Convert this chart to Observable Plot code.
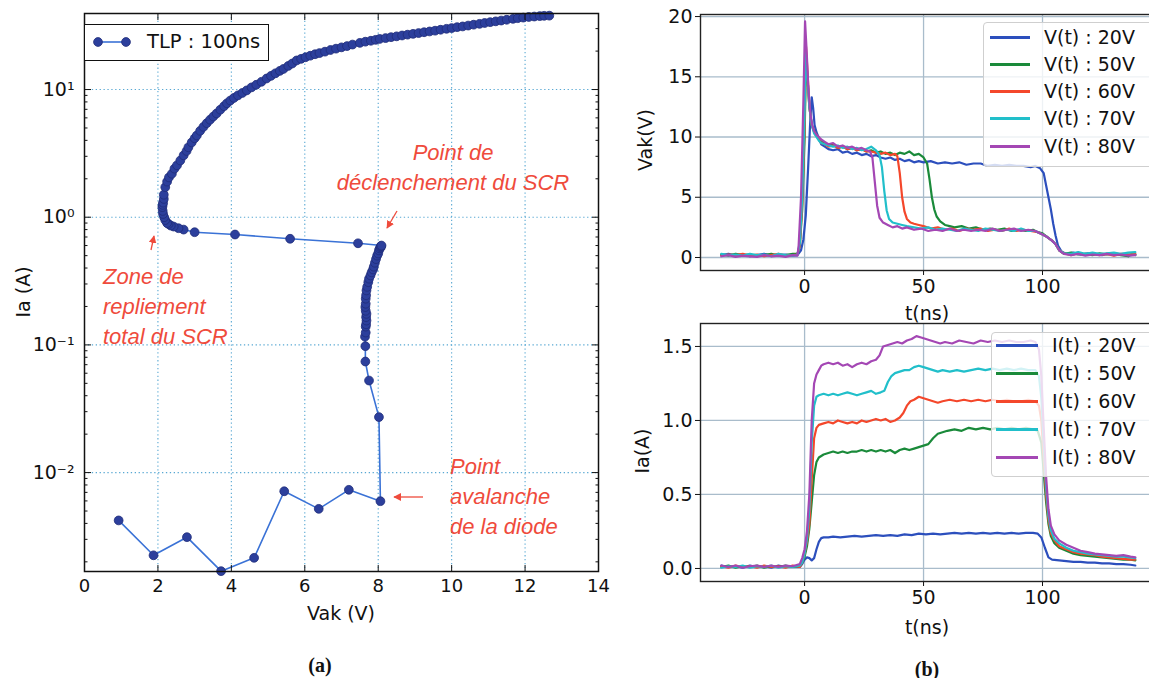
<!DOCTYPE html>
<html><head><meta charset="utf-8">
<script src="https://cdn.jsdelivr.net/npm/d3@7"></script>
<script src="https://cdn.jsdelivr.net/npm/@observablehq/plot@0.6"></script>
<style>
body{margin:0;background:#fff;overflow:hidden}
#root{position:relative;width:1149px;height:678px;overflow:hidden;background:#fff;font-family:"DejaVu Sans",sans-serif;color:#111}
#root svg{max-width:none !important;height:auto}
.pos{position:absolute}
.lbl{position:absolute;font-family:"DejaVu Sans";font-size:19px;color:#111;white-space:nowrap;transform:translate(-50%,-50%)}
.rot{transform:translate(-50%,-50%) rotate(-90deg)}
.ann{position:absolute;color:#ef4b3c;font-family:"Liberation Sans";font-style:italic;font-size:22px;line-height:30px;white-space:nowrap}
.cap{position:absolute;font-family:"Liberation Serif";font-weight:bold;font-size:20px;transform:translate(-50%,-50%)}
.leg{position:absolute;background:rgba(255,255,255,0.8);border:1px solid #cfcfcf;border-radius:4px}
.row{position:absolute;height:28px;display:flex;align-items:center;font-family:"DejaVu Sans";font-size:19px;color:#111;white-space:nowrap}
.sw{height:3px;display:inline-block}
</style></head>
<body><div id="root">
<div id="pa" class="pos" style="left:0;top:0;width:620px;height:640px"></div>
<div id="pb1" class="pos" style="left:620px;top:0;width:560px;height:330px"></div>
<div id="pb2" class="pos" style="left:620px;top:300px;width:560px;height:360px"></div>
</div>
<script>
// ---------------- data: panel (a) TLP I-V ----------------
const avalancheBranch = [[0.93,0.00422],[1.88,0.00225],[2.79,0.00312],[3.72,0.00169],[4.62,0.00215],[5.44,0.00714],[6.38,0.0052],[7.2,0.00733],[8.06,0.00597],[8.02,0.0272],[7.75,0.0526],[7.65,0.0741],[7.65,0.0977],[7.64,0.116],[7.66,0.125],[7.66,0.139],[7.67,0.145],[7.68,0.155],[7.67,0.165],[7.68,0.175],[7.66,0.185],[7.65,0.198],[7.66,0.21],[7.66,0.23],[7.67,0.245],[7.68,0.267],[7.7,0.285],[7.73,0.31],[7.75,0.33],[7.79,0.35],[7.82,0.37],[7.86,0.39],[7.88,0.41],[7.91,0.44],[7.94,0.47],[7.97,0.5],[8.0,0.52],[8.02,0.55],[8.04,0.57],[8.07,0.58],[8.07,0.593],[8.09,0.6]];
const snapbackBranch = [[7.45,0.625],[5.6,0.678],[4.1,0.732],[3.0,0.763],[2.7,0.8],[2.56,0.82],[2.43,0.845],[2.35,0.86],[2.29,0.885],[2.25,0.9],[2.2,0.95],[2.17,1.0],[2.14,1.06],[2.13,1.12],[2.12,1.2],[2.13,1.25],[2.14,1.3],[2.16,1.39]];
const onStateBranch = [[2.16,1.5],[2.2,1.72],[2.25,1.9],[2.3,2.05],[2.38,2.19],[2.45,2.4],[2.52,2.55],[2.61,2.78],[2.7,3.05],[2.78,3.3],[2.83,3.53],[2.92,3.85],[3.0,4.15],[3.06,4.37],[3.15,4.75],[3.24,5.1],[3.33,5.45],[3.42,5.8],[3.51,6.15],[3.6,6.5],[3.7,6.95],[3.8,7.4],[3.88,7.8],[3.97,8.2],[4.07,8.6],[4.18,9.0],[4.3,9.4],[4.42,9.85],[4.55,10.4],[4.68,10.9],[4.82,11.5],[4.96,12.2],[5.08,12.8],[5.2,13.4],[5.32,14.0],[5.42,14.5],[5.55,15.3],[5.66,16.0],[5.78,16.9],[5.9,17.4],[6.02,17.9],[6.15,18.4],[6.28,18.9],[6.4,19.3],[6.55,19.8],[6.7,20.4],[6.85,20.9],[7.0,21.4],[7.15,21.9],[7.3,22.5],[7.5,23.2],[7.65,23.7],[7.8,24.1],[7.93,24.5],[8.04,24.9],[8.2,25.3],[8.35,25.7],[8.5,26.1],[8.65,26.5],[8.8,26.9],[8.95,27.3],[9.1,27.7],[9.25,28.1],[9.4,28.5],[9.55,28.9],[9.7,29.4],[9.86,29.9],[10.0,30.3],[10.15,30.8],[10.3,31.2],[10.45,31.7],[10.6,32.2],[10.76,32.7],[10.9,33.2],[11.05,33.7],[11.2,34.2],[11.35,34.7],[11.5,35.2],[11.67,35.8],[11.8,36.2],[11.95,36.6],[12.1,37.0],[12.25,37.3],[12.4,37.6],[12.52,37.8],[12.66,37.9]];
const xTicksA = [0,2,4,6,8,10,12,14];
const yTicksA = [0.01,0.1,1,10];
const yTickLabelsA = ["10\u207B\u00B2","10\u207B\u00B9","10\u2070","10\u00B9"];
const yMinorA = [0.002,0.003,0.004,0.005,0.006,0.007,0.008,0.009,0.02,0.03,0.04,0.05,0.06,0.07,0.08,0.09,0.2,0.3,0.4,0.5,0.6,0.7,0.8,0.9,2,3,4,5,6,7,8,9,20,30];

// ---------------- data: panel (b) V(t) ----------------
const v20 = [[-35,0.2],[-32,0.3],[-29,0.15],[-26,0.25],[-23,0.1],[-20,0.2],[-17,0.3],[-14,0.15],[-11,0.2],[-8,0.25],[-5,0.15],[-3,0.2],[-1.5,0.6],[-0.5,1.5],[0.5,3.5],[1.5,7.5],[2.3,11],[3,13.3],[3.6,12.4],[4.2,11.0],[5,10.4],[6,9.9],[7,9.4],[8.5,9.2],[10,9.0],[12,8.9],[14,9.0],[16,8.7],[18,8.8],[20,8.6],[22,8.7],[24,8.5],[26,8.6],[28,8.4],[30,8.5],[32,8.3],[34,8.2],[36,8.3],[38,8.1],[40,8.2],[42,8.0],[44,8.1],[46,7.9],[48,8.0],[50,7.9],[53,8.0],[56,7.8],[59,7.9],[62,7.8],[65,7.9],[68,7.7],[71,7.8],[74,7.8],[77,7.6],[80,7.7],[83,7.6],[86,7.7],[89,7.6],[92,7.6],[95,7.5],[97,7.6],[99,7.4],[100.5,7.0],[101.5,6.0],[102.5,5.0],[103.5,4.0],[104.5,2.8],[105.5,1.8],[106.5,1.0],[108,0.5],[110,0.3],[113,0.4],[116,0.25],[119,0.35],[122,0.3],[125,0.2],[128,0.35],[131,0.25],[134,0.3],[137,0.2],[139,0.25]];
const v50 = [[-35,0.25],[-32,0.15],[-29,0.3],[-26,0.2],[-23,0.25],[-20,0.1],[-17,0.2],[-14,0.3],[-11,0.15],[-8,0.2],[-5,0.3],[-3,0.3],[-2,1.0],[-1,4.0],[0,10.0],[0.6,16.5],[1.2,15.0],[2,12.5],[3,11.0],[4,10.5],[5,10.2],[6,9.9],[7,9.6],[8.5,9.5],[10,9.3],[12,9.4],[14,9.1],[16,9.2],[18,9.0],[20,9.1],[22,8.9],[24,9.0],[26,8.8],[28,8.9],[30,8.7],[32,8.8],[34,8.6],[36,8.7],[38,8.5],[40,8.7],[42,8.6],[44,8.8],[46,8.5],[48,8.6],[50,8.3],[51.5,7.8],[52.5,6.5],[53.5,5.0],[54.5,4.0],[55.5,3.4],[57,3.0],[59,2.7],[61,2.6],[63,2.5],[66,2.6],[69,2.4],[72,2.5],[75,2.3],[78,2.4],[81,2.3],[84,2.4],[87,2.2],[90,2.3],[93,2.2],[96,2.3],[98,2.1],[100,2.0],[102,1.7],[104,1.4],[105.5,1.1],[107,0.6],[109,0.3],[112,0.4],[115,0.25],[118,0.3],[121,0.2],[124,0.35],[127,0.25],[130,0.3],[133,0.2],[136,0.1],[137.5,0.3],[139,0.2]];
const v60 = [[-35,0.15],[-32,0.25],[-29,0.2],[-26,0.3],[-23,0.15],[-20,0.25],[-17,0.1],[-14,0.2],[-11,0.3],[-8,0.15],[-5,0.2],[-3,0.25],[-2,1.0],[-1,4.5],[0,11.0],[0.6,17.5],[1.2,15.5],[2,12.5],[3,11.0],[4,10.4],[5,10.1],[6,9.8],[7,9.5],[8.5,9.4],[10,9.2],[12,9.3],[14,9.1],[16,9.2],[18,9.0],[20,9.1],[22,8.9],[24,9.0],[26,8.8],[28,8.8],[30,8.7],[32,8.6],[34,8.7],[36,8.5],[38,8.6],[39,8.4],[40,7.0],[41,5.0],[42,3.8],[43,3.2],[44.5,2.9],[46,2.8],[48,2.7],[50,2.6],[53,2.4],[56,2.5],[59,2.3],[62,2.4],[65,2.2],[68,2.4],[71,2.3],[74,2.4],[77,2.2],[80,2.3],[83,2.2],[86,2.4],[89,2.2],[92,2.3],[95,2.2],[98,2.1],[100,1.9],[102,1.7],[104,1.4],[105.5,1.1],[107,0.6],[109,0.35],[112,0.2],[115,0.35],[118,0.25],[121,0.3],[124,0.2],[127,0.3],[130,0.15],[133,0.3],[136,0.25],[139,0.3]];
const v70 = [[-35,0.3],[-32,0.2],[-29,0.25],[-26,0.15],[-23,0.3],[-20,0.2],[-17,0.25],[-14,0.1],[-11,0.3],[-8,0.2],[-5,0.15],[-3,0.2],[-2,1.2],[-1,5.0],[0,12.0],[0.5,17.0],[1.2,15.0],[2,12.5],[3,11.0],[4,10.3],[5,10.0],[6,9.7],[7,9.5],[8.5,9.4],[10,9.3],[12,9.2],[14,9.3],[16,9.1],[18,9.2],[20,9.0],[22,9.1],[24,8.9],[26,9.0],[28,9.2],[30,8.9],[31.5,8.5],[32.5,7.5],[33.5,5.5],[34.5,3.9],[35.5,3.2],[37,2.9],[39,2.8],[41,2.7],[43,2.6],[46,2.5],[49,2.4],[52,2.5],[55,2.3],[58,2.4],[61,2.3],[64,2.2],[67,2.4],[70,2.3],[73,2.2],[76,2.4],[79,2.3],[82,2.2],[85,2.3],[88,2.2],[91,2.4],[94,2.2],[97,2.2],[100,1.9],[102,1.7],[104,1.4],[105.5,1.1],[107,0.6],[109,0.35],[112,0.3],[115,0.45],[118,0.3],[121,0.4],[124,0.3],[127,0.35],[130,0.4],[133,0.3],[136,0.4],[139,0.45]];
const v80 = [[-35,0.1],[-32,0.2],[-29,0.05],[-26,0.15],[-23,0.1],[-20,0.05],[-17,0.2],[-14,0.1],[-11,0.15],[-8,0.05],[-5,0.2],[-3,0.15],[-2.5,1.0],[-1.5,5.0],[-0.5,13.0],[0.2,19.6],[0.9,17.0],[1.6,14.0],[2.4,12.0],[3.2,11.0],[4,10.5],[5,10.2],[6,10.0],[7,9.8],[8.5,9.6],[10,9.4],[12,9.5],[14,9.2],[16,9.3],[18,9.1],[20,9.2],[22,9.0],[24,9.1],[26,8.9],[27.5,8.8],[28.5,8.3],[29.5,6.3],[30.5,4.3],[31.5,3.3],[33,2.9],[35,2.7],[37,2.5],[39,2.6],[41,2.4],[43,2.5],[46,2.3],[49,2.4],[52,2.2],[55,2.3],[58,2.2],[61,2.4],[64,2.2],[67,2.3],[70,2.2],[73,2.3],[76,2.2],[79,2.4],[82,2.2],[85,2.3],[88,2.4],[91,2.2],[94,2.3],[97,2.2],[100,1.9],[102,1.7],[104,1.4],[105.5,1.1],[107,0.6],[109,0.3],[112,0.2],[115,0.3],[118,0.15],[121,0.25],[124,0.2],[127,0.3],[130,0.2],[133,0.25],[136,0.15],[139,0.2]];

// ---------------- data: panel (b) I(t) ----------------
const i20 = [[-35,0.02],[-32,0.01],[-29,0.015],[-26,0.005],[-23,0.02],[-20,0.01],[-17,0.015],[-14,0.005],[-11,0.02],[-8,0.01],[-5,0.015],[-2,0.01],[-1,0.03],[0,0.06],[1,0.075],[2,0.07],[3,0.055],[4,0.07],[5,0.13],[6,0.18],[7,0.205],[8,0.21],[10,0.21],[12,0.215],[15,0.21],[18,0.215],[21,0.22],[24,0.215],[27,0.22],[30,0.225],[33,0.22],[36,0.225],[39,0.22],[42,0.23],[45,0.225],[48,0.235],[51,0.23],[54,0.235],[57,0.23],[60,0.235],[63,0.24],[66,0.235],[69,0.24],[72,0.235],[75,0.24],[78,0.235],[81,0.24],[84,0.235],[87,0.24],[90,0.235],[93,0.24],[96,0.24],[98,0.235],[99.5,0.21],[101,0.14],[102.5,0.075],[104,0.06],[107,0.055],[110,0.05],[113,0.045],[116,0.045],[119,0.04],[122,0.04],[125,0.035],[128,0.035],[131,0.03],[134,0.03],[137,0.025],[139,0.02]];
const i50 = [[-35,0.01],[-32,0.02],[-29,0.005],[-26,0.015],[-23,0.01],[-20,0.02],[-17,0.005],[-14,0.015],[-11,0.01],[-8,0.02],[-5,0.01],[-2,0.015],[-1,0.04],[0,0.08],[1,0.15],[2,0.27],[3,0.45],[4,0.63],[5,0.72],[6,0.75],[7,0.76],[8,0.77],[10,0.78],[12,0.79],[14,0.78],[16,0.79],[18,0.78],[20,0.79],[22,0.79],[24,0.8],[26,0.79],[28,0.8],[30,0.79],[32,0.8],[34,0.79],[36,0.8],[38,0.78],[40,0.8],[42,0.81],[44,0.8],[46,0.81],[48,0.82],[50,0.83],[52,0.84],[54,0.88],[56,0.91],[58,0.92],[60,0.93],[63,0.94],[66,0.93],[69,0.95],[72,0.94],[75,0.95],[78,0.94],[81,0.95],[84,0.94],[87,0.95],[90,0.94],[93,0.95],[96,0.94],[98,0.93],[99.5,0.85],[100.5,0.65],[101.5,0.45],[102.5,0.3],[103.5,0.22],[105,0.17],[107,0.14],[110,0.12],[113,0.1],[116,0.09],[119,0.085],[122,0.08],[125,0.075],[128,0.07],[131,0.065],[134,0.06],[137,0.06],[139,0.055]];
const i60 = [[-35,0.015],[-32,0.005],[-29,0.02],[-26,0.01],[-23,0.015],[-20,0.005],[-17,0.02],[-14,0.01],[-11,0.015],[-8,0.005],[-5,0.02],[-2,0.01],[-1,0.04],[0,0.1],[1,0.18],[2,0.3],[3,0.6],[4,0.88],[5,0.95],[6,0.97],[8,0.98],[10,0.99],[12,0.98],[14,1.0],[16,0.99],[18,0.98],[20,0.99],[22,0.98],[24,1.0],[26,0.99],[28,1.0],[30,1.01],[32,1.0],[34,1.01],[36,0.99],[38,1.0],[40,1.02],[41.5,1.05],[43,1.1],[44.5,1.13],[46,1.14],[48,1.16],[50,1.15],[52,1.14],[54,1.13],[56,1.12],[58,1.13],[61,1.14],[64,1.13],[67,1.14],[70,1.13],[73,1.14],[76,1.13],[79,1.14],[82,1.13],[85,1.14],[88,1.13],[91,1.13],[94,1.14],[97,1.13],[98.5,1.1],[99.5,1.0],[100.5,0.75],[101.5,0.5],[102.5,0.33],[103.5,0.24],[105,0.19],[107,0.15],[110,0.13],[113,0.11],[116,0.1],[119,0.095],[122,0.09],[125,0.08],[128,0.075],[131,0.07],[134,0.065],[137,0.06],[139,0.06]];
const i70 = [[-35,0.005],[-32,0.015],[-29,0.01],[-26,0.02],[-23,0.005],[-20,0.015],[-17,0.01],[-14,0.02],[-11,0.005],[-8,0.015],[-5,0.01],[-2,0.02],[-1,0.04],[0,0.1],[1,0.2],[2,0.4],[3,0.85],[4,1.1],[5,1.16],[6,1.17],[8,1.18],[10,1.17],[12,1.18],[14,1.17],[16,1.18],[18,1.19],[20,1.18],[22,1.17],[24,1.18],[26,1.19],[28,1.2],[30,1.18],[32,1.19],[33.5,1.2],[35,1.26],[36.5,1.3],[38,1.32],[40,1.33],[42,1.34],[44,1.34],[46,1.36],[48,1.37],[50,1.36],[52,1.35],[54,1.34],[56,1.33],[58,1.34],[61,1.33],[64,1.34],[67,1.33],[70,1.34],[73,1.35],[76,1.34],[79,1.35],[82,1.34],[85,1.35],[88,1.34],[91,1.35],[94,1.34],[97,1.34],[98.5,1.3],[99.5,1.15],[100.5,0.85],[101.5,0.55],[102.5,0.36],[103.5,0.26],[105,0.2],[107,0.17],[110,0.14],[113,0.12],[116,0.11],[119,0.1],[122,0.095],[125,0.09],[128,0.085],[131,0.08],[134,0.08],[137,0.075],[139,0.07]];
const i80 = [[-35,0.02],[-32,0.01],[-29,0.02],[-26,0.005],[-23,0.015],[-20,0.02],[-17,0.01],[-14,0.02],[-11,0.01],[-8,0.02],[-5,0.015],[-2,0.03],[-1,0.07],[0,0.13],[1,0.25],[2,0.5],[3,1.0],[4,1.25],[5,1.31],[6,1.34],[7,1.37],[8,1.38],[10,1.39],[12,1.38],[14,1.39],[16,1.37],[18,1.38],[20,1.36],[22,1.38],[24,1.39],[26,1.38],[28,1.4],[30,1.41],[31.5,1.44],[33,1.5],[35,1.51],[37,1.52],[39,1.53],[41,1.52],[43,1.54],[45,1.55],[47,1.57],[49,1.56],[51,1.55],[53,1.54],[55,1.53],[57,1.52],[59,1.53],[62,1.52],[65,1.54],[68,1.53],[71,1.52],[74,1.54],[77,1.53],[80,1.54],[83,1.53],[86,1.54],[89,1.53],[92,1.53],[95,1.54],[97,1.53],[98.5,1.48],[99.5,1.3],[100.5,0.95],[101.5,0.62],[102.5,0.4],[103.5,0.29],[105,0.23],[107,0.19],[110,0.16],[113,0.14],[116,0.12],[119,0.11],[122,0.1],[125,0.095],[128,0.09],[131,0.085],[134,0.09],[137,0.08],[139,0.075]];

const vLabels = ["V(t) : 20V","V(t) : 50V","V(t) : 60V","V(t) : 70V","V(t) : 80V"];
const iLabels = ["I(t) : 20V","I(t) : 50V","I(t) : 60V","I(t) : 70V","I(t) : 80V"];
const seriesColors = ["#2c4fbd","#1a8a3a","#f4472b","#21bfca","#a447b4"];
const tTicks = [0,50,100];
const vTicks = [0,5,10,15,20];
const iTicks = [0,0.5,1.0,1.5];

// ---------------- panel (a) ----------------
const tlp = [...avalancheBranch, ...snapbackBranch, ...onStateBranch];
const noText = () => "";
const yLabelMap = new Map(yTicksA.map((v,i)=>[v, yTickLabelsA[i]]));
const gridA = {stroke:"#4fa3d1", strokeOpacity:0.95, strokeWidth:1.1, strokeDasharray:"1.3,2.6"};
const pa = Plot.plot({
  width: 620, height: 640,
  marginLeft: 84, marginRight: 22, marginTop: 13, marginBottom: 69,
  style: {fontFamily:"DejaVu Sans", fontSize:"18px", color:"#111", background:"transparent"},
  x: {domain:[0,14]},
  y: {type:"log", domain:[0.00168, 39.4]},
  marks: [
    Plot.gridX(xTicksA.slice(1,-1), gridA),
    Plot.gridY(yTicksA, gridA),
    Plot.line(tlp, {x:d=>d[0], y:d=>d[1], stroke:"#3a72d6", strokeWidth:1.6}),
    Plot.dot(tlp, {x:d=>d[0], y:d=>d[1], r:4.4, fill:"#2c3f9c", stroke:"#1f2c78", strokeWidth:0.8}),
    Plot.axisX({ticks:xTicksA, tickSize:0, tickPadding:8, label:null, fontSize:18}),
    Plot.axisX({ticks:xTicksA, tickSize:-6, tickFormat:noText, label:null}),
    Plot.axisX({anchor:"top", ticks:xTicksA, tickSize:-6, tickFormat:noText, label:null}),
    Plot.axisY({ticks:yTicksA, tickSize:0, tickPadding:10, tickFormat:d=>yLabelMap.get(d), label:null, fontSize:19}),
    Plot.axisY({ticks:yTicksA, tickSize:-7, tickFormat:noText, label:null}),
    Plot.axisY({ticks:yMinorA, tickSize:-3.5, tickFormat:noText, label:null}),
    Plot.axisY({anchor:"right", ticks:yTicksA, tickSize:-7, tickFormat:noText, label:null}),
    Plot.axisY({anchor:"right", ticks:yMinorA, tickSize:-3.5, tickFormat:noText, label:null}),
    Plot.frame({stroke:"#111", strokeWidth:1.5})
  ]
});
document.getElementById("pa").appendChild(pa);

// ---------------- panel (b) ----------------
function rows(list, labels){ return list.flatMap((arr,k)=>arr.map(([t,v])=>({t, v, s:labels[k]}))); }
const gridB = {stroke:"#a9bccb", strokeOpacity:1, strokeWidth:1.3};
function panelB(data, labels, yDomain, yTicks, fmt, mTop, mBottom, h){
  return Plot.plot({
    width: 560, height: h,
    marginLeft: 80, marginRight: 22, marginTop: mTop, marginBottom: mBottom,
    style: {fontFamily:"DejaVu Sans", fontSize:"19px", color:"#111", background:"transparent"},
    x: {domain:[-43.75, 148.75]},
    y: {domain: yDomain},
    color: {domain: labels, range: seriesColors},
    marks: [
      Plot.gridX(tTicks, gridB),
      Plot.gridY(yTicks, gridB),
      Plot.line(data, {x:"t", y:"v", z:"s", stroke:"s", strokeWidth:2.2, strokeLinejoin:"round"}),
      Plot.axisX({ticks:tTicks, tickSize:5, tickPadding:4, label:null, fontSize:19}),
      Plot.axisY({ticks:yTicks, tickSize:5, tickPadding:3, tickFormat:fmt, label:null, fontSize:19}),
      Plot.frame({stroke:"#222", strokeWidth:1.4})
    ]
  });
}
document.getElementById("pb1").appendChild(panelB(rows([v20,v50,v60,v70,v80], vLabels), vLabels, [-1.08,20.17], vTicks, d=>String(d), 14, 60, 330));
document.getElementById("pb2").appendChild(panelB(rows([i20,i50,i60,i70,i80], iLabels), iLabels, [-0.088,1.655], iTicks, d3.format(".1f"), 23, 79, 360));

// ---------------- overlays: labels, legends, annotations ----------------
const root = document.getElementById("root");
function add(html){ root.insertAdjacentHTML("beforeend", html); }
add('<div class="lbl" style="left:341px;top:613px">Vak (V)</div>');
add('<div class="lbl rot" style="left:23px;top:292px">Ia (A)</div>');
add('<div class="lbl rot" style="left:645px;top:140px">Vak(V)</div>');
add('<div class="lbl" style="left:927px;top:313px">t(ns)</div>');
add('<div class="lbl rot" style="left:642px;top:451px">Ia(A)</div>');
add('<div class="lbl" style="left:927px;top:627px">t(ns)</div>');
add('<div class="cap" style="left:320px;top:665px">(a)</div>');
add('<div class="cap" style="left:927px;top:669px">(b)</div>');

// legend (a)
add('<div class="pos" style="left:84px;top:24px;width:183px;height:35px;background:#fff;border:1.5px solid #111"></div>');
add('<svg class="pos" style="left:90px;top:34px" width="44" height="16"><line x1="8" y1="8" x2="36" y2="8" stroke="#3a72d6" stroke-width="1.6"/><circle cx="8" cy="8" r="4.4" fill="#2c3f9c" stroke="#1f2c78" stroke-width="0.8"/><circle cx="36" cy="8" r="4.4" fill="#2c3f9c" stroke="#1f2c78" stroke-width="0.8"/></svg>');
add('<div class="pos" style="left:147px;top:30px;font-family:DejaVu Sans;font-size:19.5px;color:#111;white-space:nowrap">TLP : 100ns</div>');

// legends (b)
function legend(labels, left, top, height, ys, swL, swW, txL){
  add(`<div class="leg" style="left:${left}px;top:${top}px;width:220px;height:${height}px"></div>`);
  labels.forEach((lab,k)=>{
    add(`<div class="row" style="left:${swL}px;top:${ys[k]-14}px"><span class="sw" style="width:${swW}px;background:${seriesColors[k]}"></span><span style="margin-left:${txL-swL-swW}px">${lab}</span></div>`);
  });
}
legend(vLabels, 983, 22, 143, [37,64,91,118,146], 990, 40, 1044);
legend(iLabels, 991, 332, 143, [345,373,401,429,457], 996, 42, 1052);

// annotations
add('<div class="ann" style="left:453px;top:138px;transform:translateX(-50%);text-align:center">Point de<br>déclenchement du SCR</div>');
add('<div class="ann" style="left:103px;top:262px">Zone de<br>repliement<br>total du SCR</div>');
add('<div class="ann" style="left:450px;top:452px">Point<br>avalanche<br>de la diode</div>');
add(`<svg class="pos" style="left:0;top:0;pointer-events:none" width="620" height="600">
<defs><marker id="ah" viewBox="0 0 10 10" refX="9" refY="5" markerWidth="6" markerHeight="6" orient="auto"><path d="M0,0L10,5L0,10z" fill="#ef4b3c"/></marker></defs>
<line x1="397" y1="211" x2="387" y2="228" stroke="#ef4b3c" stroke-width="1.3" marker-end="url(#ah)"/>
<line x1="151" y1="250" x2="154" y2="236" stroke="#ef4b3c" stroke-width="1.3" marker-end="url(#ah)"/>
<line x1="423" y1="497" x2="394" y2="497" stroke="#ef4b3c" stroke-width="1.3" marker-end="url(#ah)"/>
</svg>`);
</script>
</body></html>
